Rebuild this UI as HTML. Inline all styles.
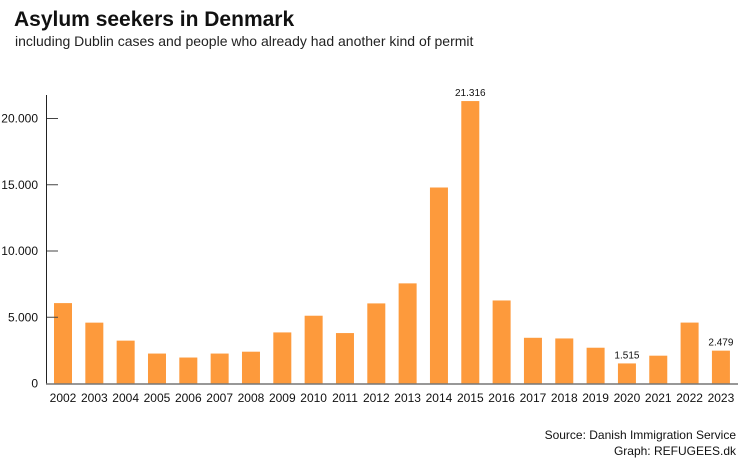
<!DOCTYPE html>
<html><head><meta charset="utf-8"><style>
body{margin:0;background:#fff;width:747px;height:461px;overflow:hidden;font-family:"Liberation Sans",sans-serif}
svg{display:block}
</style></head><body>
<svg width="747" height="461">
<text x="14" y="26" font-size="21" font-weight="bold" fill="#111">Asylum seekers in Denmark</text>
<text x="15" y="46" font-size="14" fill="#222">including Dublin cases and people who already had another kind of permit</text>
<g id="plot"></g>
<text x="736" y="439" font-size="12" text-anchor="end" fill="#111">Source: Danish Immigration Service</text>
<text x="736" y="455" font-size="12" text-anchor="end" fill="#111">Graph: REFUGEES.dk</text>
</svg>
<script>
const years=["2002","2003","2004","2005","2006","2007","2008","2009","2010","2011","2012","2013","2014","2015","2016","2017","2018","2019","2020","2021","2022","2023"];
const values=[6068,4593,3235,2260,1960,2260,2400,3855,5115,3806,6045,7557,14792,21316,6266,3450,3400,2700,1515,2099,4597,2479];
const labeled=["21.316",null,null,"1.515","2.479"];
const labelYears={"2015":"21.316","2020":"1.515","2023":"2.479"};
const yTicks=[0,5000,10000,15000,20000];
const yTickLabels=["0","5.000","10.000","15.000","20.000"];
const NS="http://www.w3.org/2000/svg";
const g=document.getElementById('plot');
const y0=383.5,yScale=265/20000;
const y=v=>y0-v*yScale;
const x=i=>63+i*31.33;
function mk(t,a){const e=document.createElementNS(NS,t);for(const k in a)e.setAttribute(k,a[k]);g.appendChild(e);return e;}
values.forEach((v,i)=>{
  const r=mk('rect',{x:x(i)-9,y:y(v),width:18,height:y0-y(v),fill:'#fd9a3c'});
  
  
  const t=mk('text',{x:x(i),y:402,'font-size':12,'text-anchor':'middle',fill:'#111'});
  t.textContent=years[i];
  
  
  if(labelYears[years[i]]){
    const l=mk('text',{x:x(i),y:y(v)-5,'font-size':10,'text-anchor':'middle',fill:'#111'});
    l.textContent=labelYears[years[i]];
    
    
  }
});
yTicks.forEach((v,i)=>{
  if(v>0){const tk=mk('line',{x1:46,x2:58,y1:y(v),y2:y(v),stroke:'#444','stroke-width':1});
  
  }
  const t=mk('text',{x:38,y:y(v)+4,'font-size':12,'text-anchor':'end',fill:'#111'});
  t.textContent=yTickLabels[i];
  
  
});
const ax=mk('line',{x1:46.5,x2:46.5,y1:95,y2:384,stroke:'#222','stroke-width':1});


const bx=mk('line',{x1:46,x2:738,y1:384,y2:384,stroke:'#777','stroke-width':1.5});


</script>
</body></html>
